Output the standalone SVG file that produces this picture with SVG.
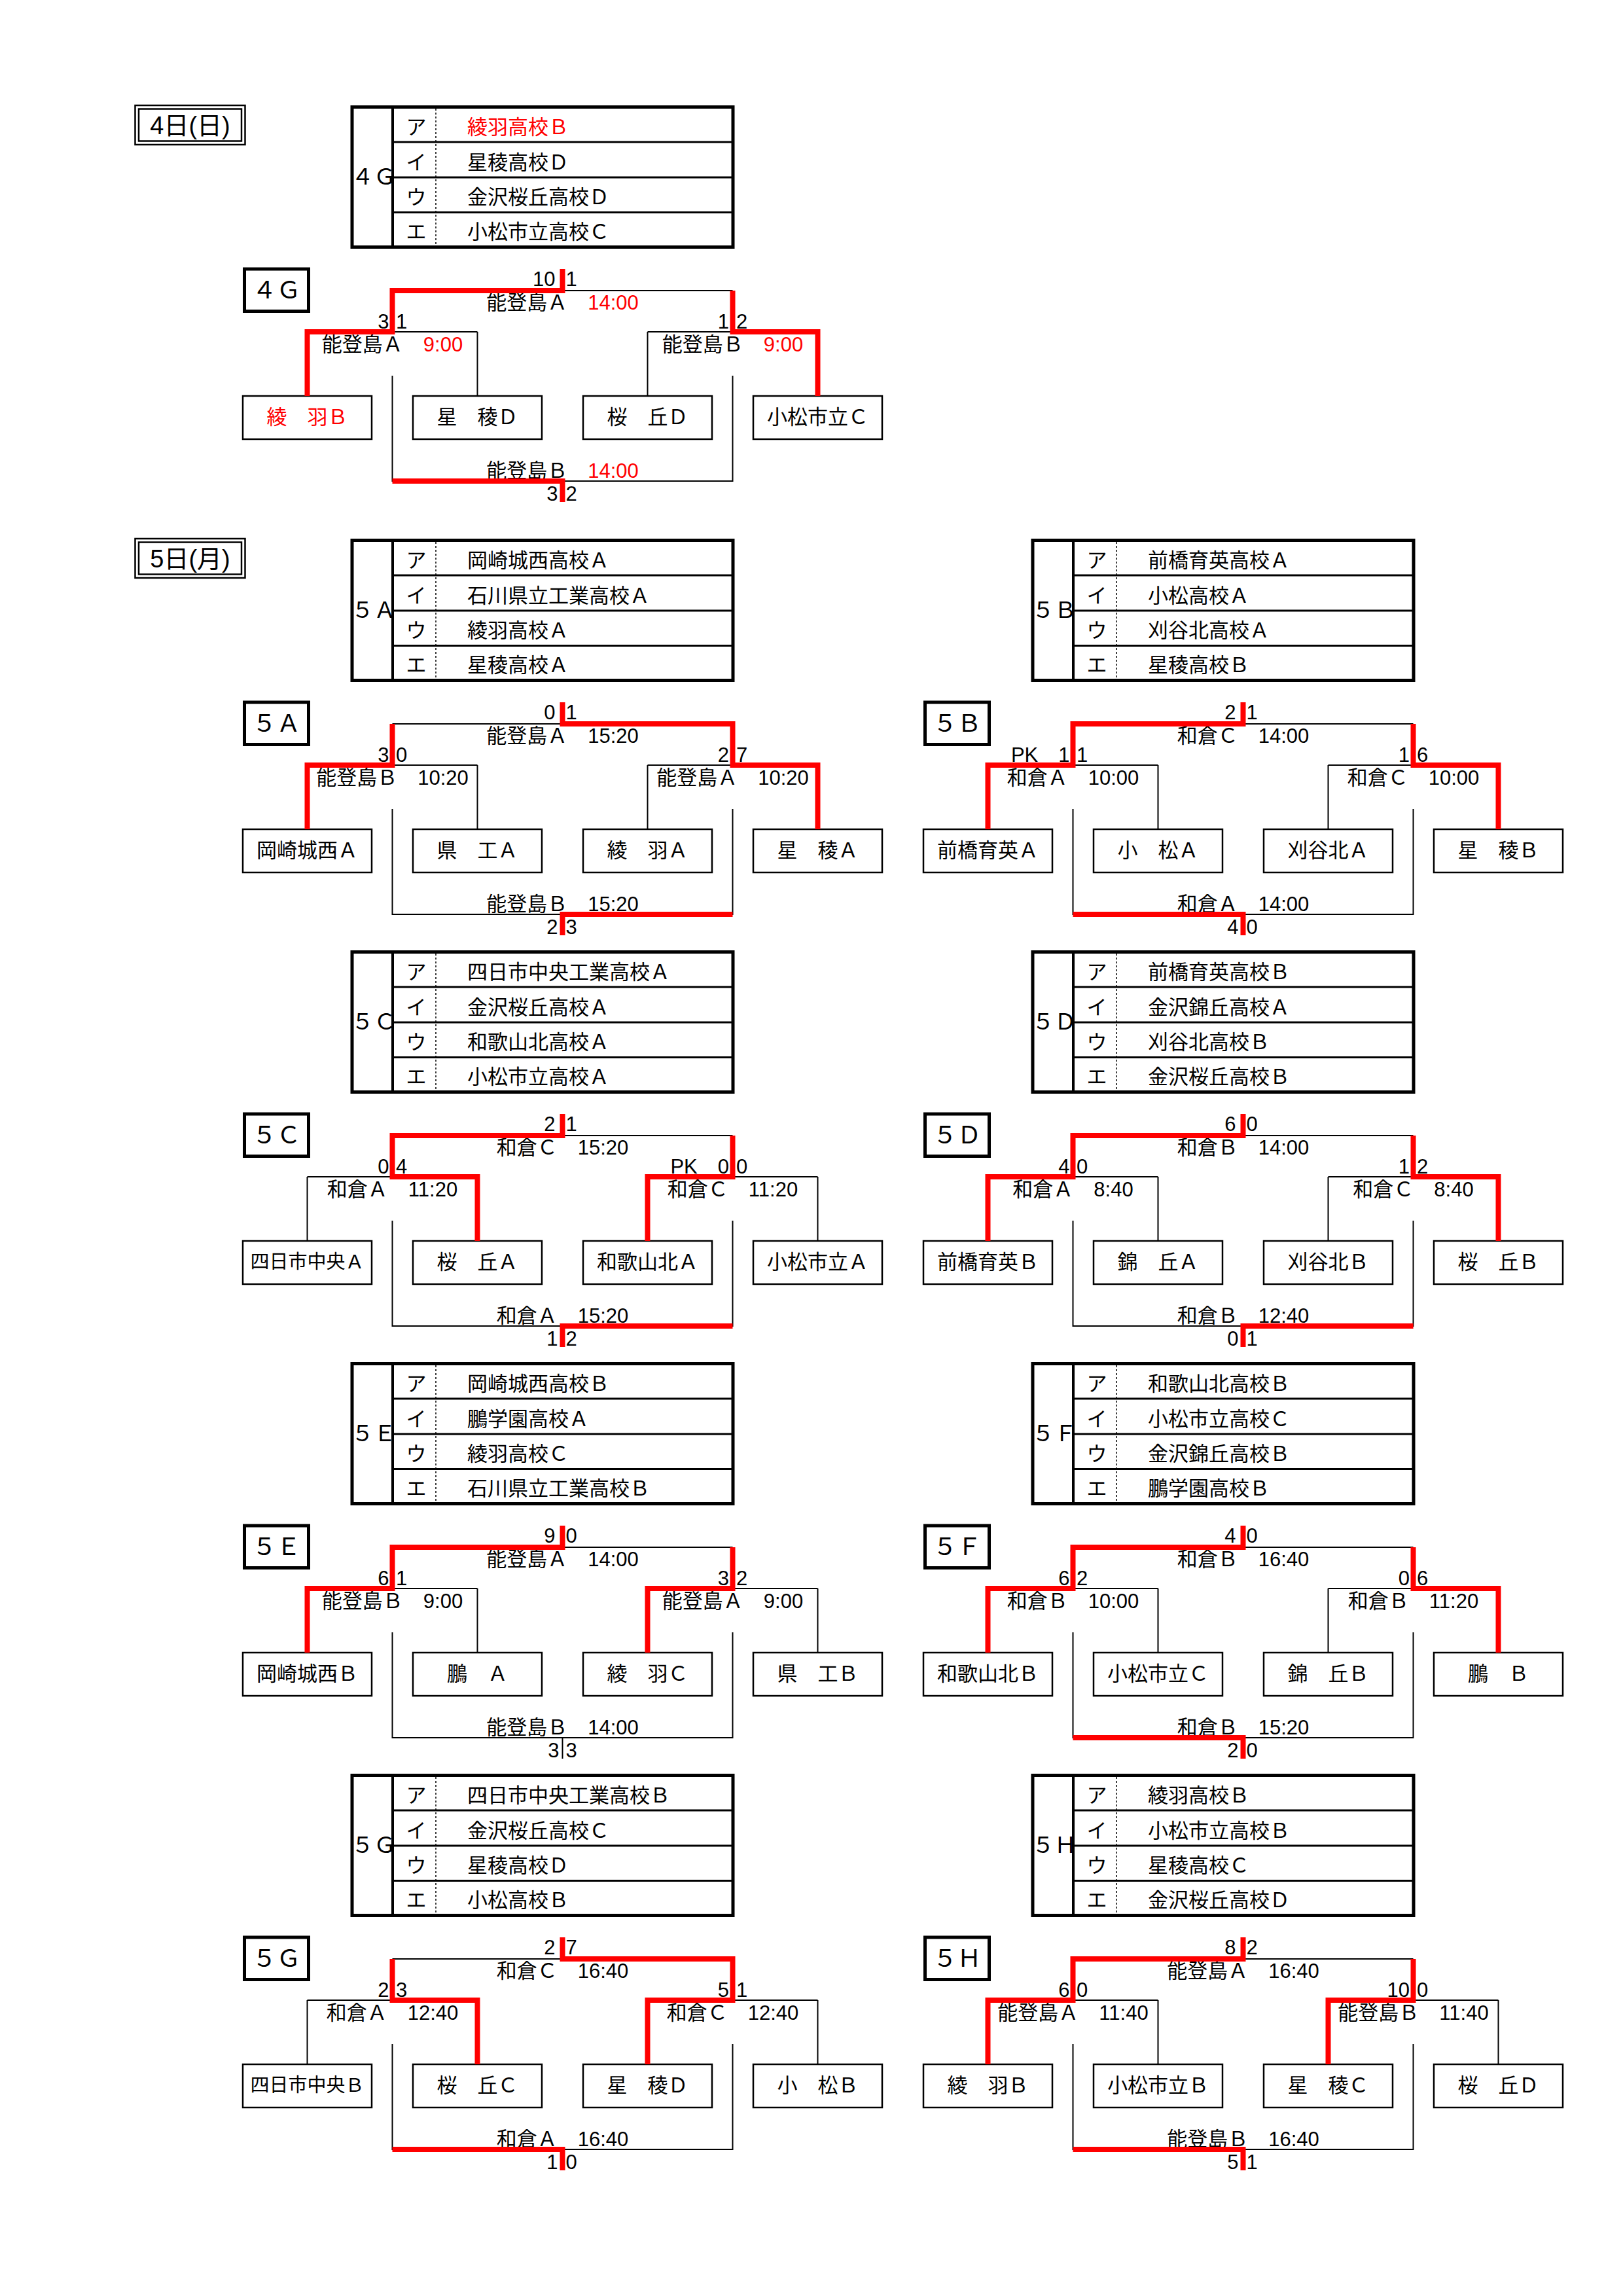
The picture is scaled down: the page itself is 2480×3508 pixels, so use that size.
<svg xmlns="http://www.w3.org/2000/svg" width="2480" height="3508" viewBox="0 0 2480 3508">
<style>
text{font-family:"Liberation Sans","Noto Sans CJK JP",sans-serif;font-size:31px;fill:#000}
.m{text-anchor:middle}.e{text-anchor:end}
.red{fill:#f00}
.hd{font-size:37px}.gl{font-size:34px}.dt{font-size:38px}.sm{font-size:29px}
.tb{fill:none;stroke:#000;stroke-width:5}
.rw{stroke:#000;stroke-width:3;fill:none}
.iv{stroke:#000;stroke-width:4;fill:none}
.dl{stroke:#000;stroke-width:1.5;stroke-dasharray:3 3;fill:none}
.bx{fill:#fff;stroke:#000;stroke-width:2.5}
.hb{fill:#fff;stroke:#000;stroke-width:5}
.db{fill:none;stroke:#000;stroke-width:2.5}
.k{fill:none;stroke:#000;stroke-width:2}
.w{fill:none;stroke:#f00;stroke-width:8;stroke-linejoin:miter}
</style>
<defs>
<g id="tblframe">
<rect class="tb" x="538" y="2.5" width="582" height="214"/>
<path class="rw" d="M600,56H1120M600,110H1120M600,163.5H1120"/>
<path class="iv" d="M600,0V219"/>
<path class="dl" d="M666,5V214"/>
<text class="m" x="636" y="44">ア</text>
<text class="m" x="636" y="97.5">イ</text>
<text class="m" x="636" y="151">ウ</text>
<text class="m" x="636" y="204">エ</text>
</g>
<path id="blk" class="k" d="M599.5,283H1119.5M599.5,283V346M1119.5,283V346M469.5,346H729.5M989.5,346H1249.5M469.5,346V444M729.5,346V444M989.5,346V444M1249.5,346V444M599.5,413V574H1119.5V413"/>
<rect id="hbox" class="hb" x="373.5" y="250" width="98" height="64.5"/>
<rect id="b1" class="bx" x="371" y="444" width="197" height="66"/>
<rect id="b2" class="bx" x="631" y="444" width="197" height="66"/>
<rect id="b3" class="bx" x="891" y="444" width="197" height="66"/>
<rect id="b4" class="bx" x="1151" y="444" width="197" height="66"/>
</defs>
<rect width="2480" height="3508" fill="#fff"/>

<g id="date-4" transform="translate(0,161)">
<rect class="db" x="206.5" y="0" width="168" height="60"/>
<rect class="db" x="212" y="5.5" width="157" height="49"/>
<text class="dt m" x="290.5" y="44">4日(日)</text>
</g>
<g id="date-5" transform="translate(0,823)">
<rect class="db" x="206.5" y="0" width="168" height="60"/>
<rect class="db" x="212" y="5.5" width="157" height="49"/>
<text class="dt m" x="290.5" y="44">5日(月)</text>
</g>

<!-- 4G -->
<g id="sec-4G" transform="translate(0,161)">
<g id="table-4G"><use href="#tblframe"/>
<text class="gl m" x="571" y="121">４Ｇ</text>
<text class="red" x="714" y="44">綾羽高校Ｂ</text>
<text x="714" y="97.5">星稜高校Ｄ</text>
<text x="714" y="151">金沢桜丘高校Ｄ</text>
<text x="714" y="204">小松市立高校Ｃ</text></g>
<g id="head-4G"><use href="#hbox"/><text class="hd m" x="422.5" y="295">４Ｇ</text></g>
<g id="team-4G-1"><use href="#b1"/><text class="m red" x="469.5" y="487">綾　羽Ｂ</text></g>
<g id="team-4G-2"><use href="#b2"/><text class="m" x="729.5" y="487">星　稜Ｄ</text></g>
<g id="team-4G-3"><use href="#b3"/><text class="m" x="989.5" y="487">桜　丘Ｄ</text></g>
<g id="team-4G-4"><use href="#b4"/><text class="m" x="1249.5" y="487">小松市立Ｃ</text></g>
<g id="conn-4G">
<text class="m" x="859.5" y="312">能登島Ａ　<tspan class="red">14:00</tspan></text>
<text class="m" x="599.5" y="376">能登島Ａ　<tspan class="red">9:00</tspan></text>
<text class="m" x="1119.5" y="376">能登島Ｂ　<tspan class="red">9:00</tspan></text>
<text class="m" x="859.5" y="569">能登島Ｂ　<tspan class="red">14:00</tspan></text>
<text class="e" x="848.5" y="276">10</text><text x="864.5" y="276">1</text>
<text class="e" x="594.5" y="341">3</text><text x="605" y="341">1</text>
<text class="e" x="1114" y="341">1</text><text x="1125" y="341">2</text>
<text class="e" x="852.5" y="604">3</text><text x="864.5" y="604">2</text>
<use href="#blk"/>
<path class="w" d="M469.5,444V346H599.5V283H859.5V250"/>
<path class="w" d="M1249.5,444V346H1119.5V283"/>
<path class="w" d="M599.5,574H859.5V606"/>
</g>
</g>

<!-- 5A -->
<g id="sec-5A" transform="translate(0,823)">
<g id="table-5A"><use href="#tblframe"/>
<text class="gl m" x="571" y="121">５Ａ</text>
<text x="714" y="44">岡崎城西高校Ａ</text>
<text x="714" y="97.5">石川県立工業高校Ａ</text>
<text x="714" y="151">綾羽高校Ａ</text>
<text x="714" y="204">星稜高校Ａ</text></g>
<g id="head-5A"><use href="#hbox"/><text class="hd m" x="422.5" y="295">５Ａ</text></g>
<g id="team-5A-1"><use href="#b1"/><text class="m" x="469.5" y="487">岡崎城西Ａ</text></g>
<g id="team-5A-2"><use href="#b2"/><text class="m" x="729.5" y="487">県　工Ａ</text></g>
<g id="team-5A-3"><use href="#b3"/><text class="m" x="989.5" y="487">綾　羽Ａ</text></g>
<g id="team-5A-4"><use href="#b4"/><text class="m" x="1249.5" y="487">星　稜Ａ</text></g>
<g id="conn-5A">
<text class="m" x="859.5" y="312">能登島Ａ　15:20</text>
<text class="m" x="599.5" y="376">能登島Ｂ　10:20</text>
<text class="m" x="1119.5" y="376">能登島Ａ　10:20</text>
<text class="m" x="859.5" y="569">能登島Ｂ　15:20</text>
<text class="e" x="848.5" y="276">0</text><text x="864.5" y="276">1</text>
<text class="e" x="594.5" y="341">3</text><text x="605" y="341">0</text>
<text class="e" x="1114" y="341">2</text><text x="1125" y="341">7</text>
<text class="e" x="852.5" y="604">2</text><text x="864.5" y="604">3</text>
<use href="#blk"/>
<path class="w" d="M469.5,444V346H599.5V283"/>
<path class="w" d="M1249.5,444V346H1119.5V283H859.5V250"/>
<path class="w" d="M1119.5,574H859.5V606"/>
</g>
</g>

<!-- 5B -->
<g id="sec-5B" transform="translate(1040,823)">
<g id="table-5B"><use href="#tblframe"/>
<text class="gl m" x="571" y="121">５Ｂ</text>
<text x="714" y="44">前橋育英高校Ａ</text>
<text x="714" y="97.5">小松高校Ａ</text>
<text x="714" y="151">刈谷北高校Ａ</text>
<text x="714" y="204">星稜高校Ｂ</text></g>
<g id="head-5B"><use href="#hbox"/><text class="hd m" x="422.5" y="295">５Ｂ</text></g>
<g id="team-5B-1"><use href="#b1"/><text class="m" x="469.5" y="487">前橋育英Ａ</text></g>
<g id="team-5B-2"><use href="#b2"/><text class="m" x="729.5" y="487">小　松Ａ</text></g>
<g id="team-5B-3"><use href="#b3"/><text class="m" x="989.5" y="487">刈谷北Ａ</text></g>
<g id="team-5B-4"><use href="#b4"/><text class="m" x="1249.5" y="487">星　稜Ｂ</text></g>
<g id="conn-5B">
<text class="m" x="859.5" y="312">和倉Ｃ　14:00</text>
<text class="m" x="599.5" y="376">和倉Ａ　10:00</text>
<text class="m" x="1119.5" y="376">和倉Ｃ　10:00</text>
<text class="m" x="859.5" y="569">和倉Ａ　14:00</text>
<text class="e" x="848.5" y="276">2</text><text x="864.5" y="276">1</text>
<text class="e" x="594.5" y="341">PK　1</text><text x="605" y="341">1</text>
<text class="e" x="1114" y="341">1</text><text x="1125" y="341">6</text>
<text class="e" x="852.5" y="604">4</text><text x="864.5" y="604">0</text>
<use href="#blk"/>
<path class="w" d="M469.5,444V346H599.5V283H859.5V250"/>
<path class="w" d="M1249.5,444V346H1119.5V283"/>
<path class="w" d="M599.5,574H859.5V606"/>
</g>
</g>

<!-- 5C -->
<g id="sec-5C" transform="translate(0,1452)">
<g id="table-5C"><use href="#tblframe"/>
<text class="gl m" x="571" y="121">５Ｃ</text>
<text x="714" y="44">四日市中央工業高校Ａ</text>
<text x="714" y="97.5">金沢桜丘高校Ａ</text>
<text x="714" y="151">和歌山北高校Ａ</text>
<text x="714" y="204">小松市立高校Ａ</text></g>
<g id="head-5C"><use href="#hbox"/><text class="hd m" x="422.5" y="295">５Ｃ</text></g>
<g id="team-5C-1"><use href="#b1"/><text class="m sm" x="469.5" y="486">四日市中央Ａ</text></g>
<g id="team-5C-2"><use href="#b2"/><text class="m" x="729.5" y="487">桜　丘Ａ</text></g>
<g id="team-5C-3"><use href="#b3"/><text class="m" x="989.5" y="487">和歌山北Ａ</text></g>
<g id="team-5C-4"><use href="#b4"/><text class="m" x="1249.5" y="487">小松市立Ａ</text></g>
<g id="conn-5C">
<text class="m" x="859.5" y="312">和倉Ｃ　15:20</text>
<text class="m" x="599.5" y="376">和倉Ａ　11:20</text>
<text class="m" x="1119.5" y="376">和倉Ｃ　11:20</text>
<text class="m" x="859.5" y="569">和倉Ａ　15:20</text>
<text class="e" x="848.5" y="276">2</text><text x="864.5" y="276">1</text>
<text class="e" x="594.5" y="341">0</text><text x="605" y="341">4</text>
<text class="e" x="1114" y="341">PK　0</text><text x="1125" y="341">0</text>
<text class="e" x="852.5" y="604">1</text><text x="864.5" y="604">2</text>
<use href="#blk"/>
<path class="w" d="M729.5,444V346H599.5V283H859.5V250"/>
<path class="w" d="M989.5,444V346H1119.5V283"/>
<path class="w" d="M1119.5,574H859.5V606"/>
</g>
</g>

<!-- 5D -->
<g id="sec-5D" transform="translate(1040,1452)">
<g id="table-5D"><use href="#tblframe"/>
<text class="gl m" x="571" y="121">５Ｄ</text>
<text x="714" y="44">前橋育英高校Ｂ</text>
<text x="714" y="97.5">金沢錦丘高校Ａ</text>
<text x="714" y="151">刈谷北高校Ｂ</text>
<text x="714" y="204">金沢桜丘高校Ｂ</text></g>
<g id="head-5D"><use href="#hbox"/><text class="hd m" x="422.5" y="295">５Ｄ</text></g>
<g id="team-5D-1"><use href="#b1"/><text class="m" x="469.5" y="487">前橋育英Ｂ</text></g>
<g id="team-5D-2"><use href="#b2"/><text class="m" x="729.5" y="487">錦　丘Ａ</text></g>
<g id="team-5D-3"><use href="#b3"/><text class="m" x="989.5" y="487">刈谷北Ｂ</text></g>
<g id="team-5D-4"><use href="#b4"/><text class="m" x="1249.5" y="487">桜　丘Ｂ</text></g>
<g id="conn-5D">
<text class="m" x="859.5" y="312">和倉Ｂ　14:00</text>
<text class="m" x="599.5" y="376">和倉Ａ　8:40</text>
<text class="m" x="1119.5" y="376">和倉Ｃ　8:40</text>
<text class="m" x="859.5" y="569">和倉Ｂ　12:40</text>
<text class="e" x="848.5" y="276">6</text><text x="864.5" y="276">0</text>
<text class="e" x="594.5" y="341">4</text><text x="605" y="341">0</text>
<text class="e" x="1114" y="341">1</text><text x="1125" y="341">2</text>
<text class="e" x="852.5" y="604">0</text><text x="864.5" y="604">1</text>
<use href="#blk"/>
<path class="w" d="M469.5,444V346H599.5V283H859.5V250"/>
<path class="w" d="M1249.5,444V346H1119.5V283"/>
<path class="w" d="M1119.5,574H859.5V606"/>
</g>
</g>

<!-- 5E -->
<g id="sec-5E" transform="translate(0,2081)">
<g id="table-5E"><use href="#tblframe"/>
<text class="gl m" x="571" y="121">５Ｅ</text>
<text x="714" y="44">岡崎城西高校Ｂ</text>
<text x="714" y="97.5">鵬学園高校Ａ</text>
<text x="714" y="151">綾羽高校Ｃ</text>
<text x="714" y="204">石川県立工業高校Ｂ</text></g>
<g id="head-5E"><use href="#hbox"/><text class="hd m" x="422.5" y="295">５Ｅ</text></g>
<g id="team-5E-1"><use href="#b1"/><text class="m" x="469.5" y="487">岡崎城西Ｂ</text></g>
<g id="team-5E-2"><use href="#b2"/><text class="m" x="729.5" y="487">鵬　Ａ</text></g>
<g id="team-5E-3"><use href="#b3"/><text class="m" x="989.5" y="487">綾　羽Ｃ</text></g>
<g id="team-5E-4"><use href="#b4"/><text class="m" x="1249.5" y="487">県　工Ｂ</text></g>
<g id="conn-5E">
<text class="m" x="859.5" y="312">能登島Ａ　14:00</text>
<text class="m" x="599.5" y="376">能登島Ｂ　9:00</text>
<text class="m" x="1119.5" y="376">能登島Ａ　9:00</text>
<text class="m" x="859.5" y="569">能登島Ｂ　14:00</text>
<text class="e" x="848.5" y="276">9</text><text x="864.5" y="276">0</text>
<text class="e" x="594.5" y="341">6</text><text x="605" y="341">1</text>
<text class="e" x="1114" y="341">3</text><text x="1125" y="341">2</text>
<text class="e" x="854.5" y="604">3</text><text x="864.5" y="604">3</text>
<use href="#blk"/>
<path class="w" d="M469.5,444V346H599.5V283H859.5V250"/>
<path class="w" d="M989.5,444V346H1119.5V283"/>
<path class="k" d="M859.5,574V606"/>
</g>
</g>

<!-- 5F -->
<g id="sec-5F" transform="translate(1040,2081)">
<g id="table-5F"><use href="#tblframe"/>
<text class="gl m" x="571" y="121">５Ｆ</text>
<text x="714" y="44">和歌山北高校Ｂ</text>
<text x="714" y="97.5">小松市立高校Ｃ</text>
<text x="714" y="151">金沢錦丘高校Ｂ</text>
<text x="714" y="204">鵬学園高校Ｂ</text></g>
<g id="head-5F"><use href="#hbox"/><text class="hd m" x="422.5" y="295">５Ｆ</text></g>
<g id="team-5F-1"><use href="#b1"/><text class="m" x="469.5" y="487">和歌山北Ｂ</text></g>
<g id="team-5F-2"><use href="#b2"/><text class="m" x="729.5" y="487">小松市立Ｃ</text></g>
<g id="team-5F-3"><use href="#b3"/><text class="m" x="989.5" y="487">錦　丘Ｂ</text></g>
<g id="team-5F-4"><use href="#b4"/><text class="m" x="1249.5" y="487">鵬　Ｂ</text></g>
<g id="conn-5F">
<text class="m" x="859.5" y="312">和倉Ｂ　16:40</text>
<text class="m" x="599.5" y="376">和倉Ｂ　10:00</text>
<text class="m" x="1119.5" y="376">和倉Ｂ　11:20</text>
<text class="m" x="859.5" y="569">和倉Ｂ　15:20</text>
<text class="e" x="848.5" y="276">4</text><text x="864.5" y="276">0</text>
<text class="e" x="594.5" y="341">6</text><text x="605" y="341">2</text>
<text class="e" x="1114" y="341">0</text><text x="1125" y="341">6</text>
<text class="e" x="852.5" y="604">2</text><text x="864.5" y="604">0</text>
<use href="#blk"/>
<path class="w" d="M469.5,444V346H599.5V283H859.5V250"/>
<path class="w" d="M1249.5,444V346H1119.5V283"/>
<path class="w" d="M599.5,574H859.5V606"/>
</g>
</g>

<!-- 5G -->
<g id="sec-5G" transform="translate(0,2710)">
<g id="table-5G"><use href="#tblframe"/>
<text class="gl m" x="571" y="121">５Ｇ</text>
<text x="714" y="44">四日市中央工業高校Ｂ</text>
<text x="714" y="97.5">金沢桜丘高校Ｃ</text>
<text x="714" y="151">星稜高校Ｄ</text>
<text x="714" y="204">小松高校Ｂ</text></g>
<g id="head-5G"><use href="#hbox"/><text class="hd m" x="422.5" y="295">５Ｇ</text></g>
<g id="team-5G-1"><use href="#b1"/><text class="m sm" x="469.5" y="486">四日市中央Ｂ</text></g>
<g id="team-5G-2"><use href="#b2"/><text class="m" x="729.5" y="487">桜　丘Ｃ</text></g>
<g id="team-5G-3"><use href="#b3"/><text class="m" x="989.5" y="487">星　稜Ｄ</text></g>
<g id="team-5G-4"><use href="#b4"/><text class="m" x="1249.5" y="487">小　松Ｂ</text></g>
<g id="conn-5G">
<text class="m" x="859.5" y="312">和倉Ｃ　16:40</text>
<text class="m" x="599.5" y="376">和倉Ａ　12:40</text>
<text class="m" x="1119.5" y="376">和倉Ｃ　12:40</text>
<text class="m" x="859.5" y="569">和倉Ａ　16:40</text>
<text class="e" x="848.5" y="276">2</text><text x="864.5" y="276">7</text>
<text class="e" x="594.5" y="341">2</text><text x="605" y="341">3</text>
<text class="e" x="1114" y="341">5</text><text x="1125" y="341">1</text>
<text class="e" x="852.5" y="604">1</text><text x="864.5" y="604">0</text>
<use href="#blk"/>
<path class="w" d="M729.5,444V346H599.5V283"/>
<path class="w" d="M989.5,444V346H1119.5V283H859.5V250"/>
<path class="w" d="M599.5,574H859.5V606"/>
</g>
</g>

<!-- 5H -->
<g id="sec-5H" transform="translate(1040,2710)">
<g id="table-5H"><use href="#tblframe"/>
<text class="gl m" x="571" y="121">５Ｈ</text>
<text x="714" y="44">綾羽高校Ｂ</text>
<text x="714" y="97.5">小松市立高校Ｂ</text>
<text x="714" y="151">星稜高校Ｃ</text>
<text x="714" y="204">金沢桜丘高校Ｄ</text></g>
<g id="head-5H"><use href="#hbox"/><text class="hd m" x="422.5" y="295">５Ｈ</text></g>
<g id="team-5H-1"><use href="#b1"/><text class="m" x="469.5" y="487">綾　羽Ｂ</text></g>
<g id="team-5H-2"><use href="#b2"/><text class="m" x="729.5" y="487">小松市立Ｂ</text></g>
<g id="team-5H-3"><use href="#b3"/><text class="m" x="989.5" y="487">星　稜Ｃ</text></g>
<g id="team-5H-4"><use href="#b4"/><text class="m" x="1249.5" y="487">桜　丘Ｄ</text></g>
<g id="conn-5H">
<text class="m" x="859.5" y="312">能登島Ａ　16:40</text>
<text class="m" x="599.5" y="376">能登島Ａ　11:40</text>
<text class="m" x="1119.5" y="376">能登島Ｂ　11:40</text>
<text class="m" x="859.5" y="569">能登島Ｂ　16:40</text>
<text class="e" x="848.5" y="276">8</text><text x="864.5" y="276">2</text>
<text class="e" x="594.5" y="341">6</text><text x="605" y="341">0</text>
<text class="e" x="1114" y="341">10</text><text x="1125" y="341">0</text>
<text class="e" x="852.5" y="604">5</text><text x="864.5" y="604">1</text>
<use href="#blk"/>
<path class="w" d="M469.5,444V346H599.5V283H859.5V250"/>
<path class="w" d="M989.5,444V346H1119.5V283"/>
<path class="w" d="M599.5,574H859.5V606"/>
</g>
</g>
</svg>
